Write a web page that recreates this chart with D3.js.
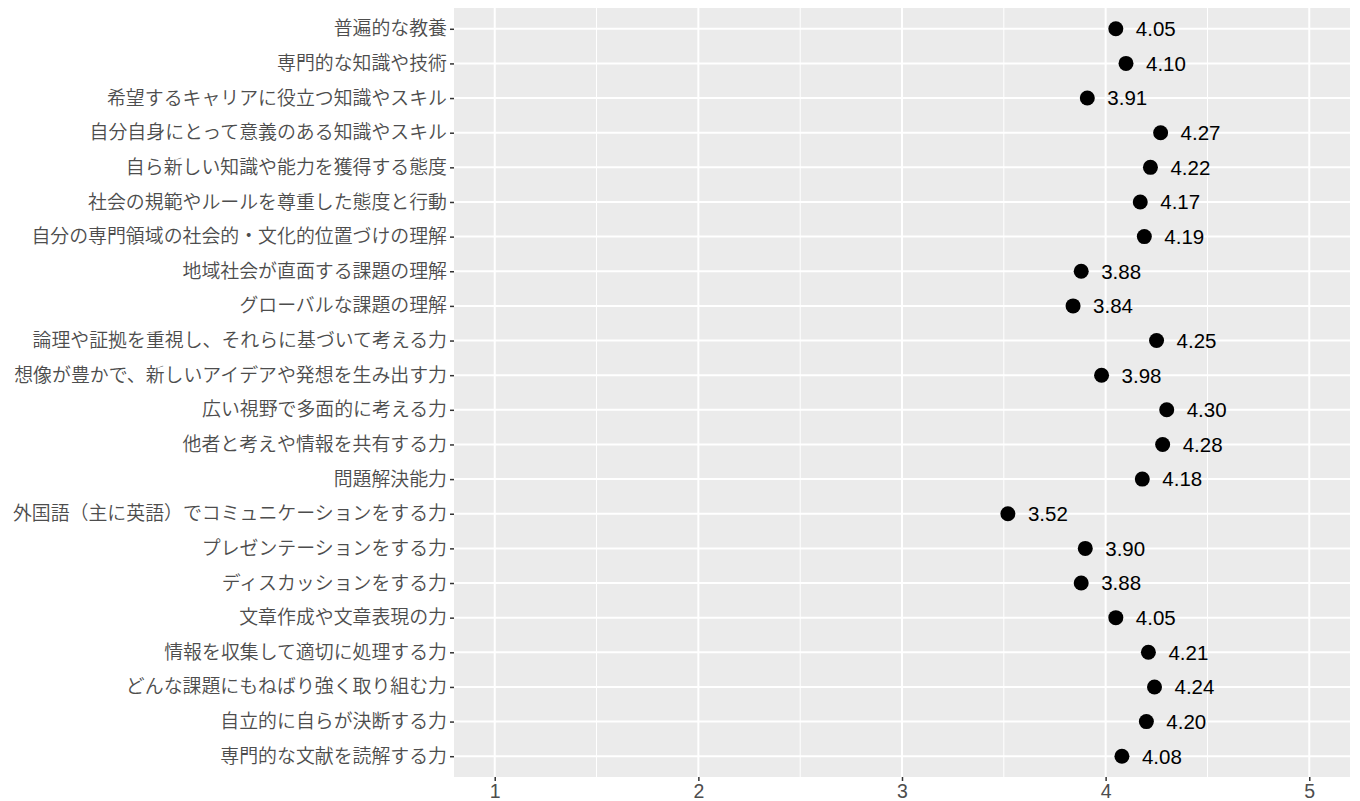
<!DOCTYPE html>
<html><head><meta charset="utf-8">
<script src="https://cdn.jsdelivr.net/npm/d3@7"></script>
<style>body{margin:0;background:#fff;}</style>
</head><body>
<svg id="chart" width="1360" height="801"></svg>
<script>
const categories = [
"普遍的な教養","専門的な知識や技術","希望するキャリアに役立つ知識やスキル","自分自身にとって意義のある知識やスキル",
"自ら新しい知識や能力を獲得する態度","社会の規範やルールを尊重した態度と行動","自分の専門領域の社会的・文化的位置づけの理解",
"地域社会が直面する課題の理解","グローバルな課題の理解","論理や証拠を重視し、それらに基づいて考える力",
"想像が豊かで、新しいアイデアや発想を生み出す力","広い視野で多面的に考える力","他者と考えや情報を共有する力",
"問題解決能力","外国語（主に英語）でコミュニケーションをする力","プレゼンテーションをする力","ディスカッションをする力",
"文章作成や文章表現の力","情報を収集して適切に処理する力","どんな課題にもねばり強く取り組む力","自立的に自らが決断する力",
"専門的な文献を読解する力"];
const values = [4.05,4.10,3.91,4.27,4.22,4.17,4.19,3.88,3.84,4.25,3.98,4.30,4.28,4.18,3.52,3.90,3.88,4.05,4.21,4.24,4.20,4.08];
const xTicks = [1,2,3,4,5];
const xMinor = [1.5,2.5,3.5,4.5];

const svg = d3.select("#chart");
const L = 454, R = 1350, T = 8, B = 777;
const x = d3.scaleLinear().domain([0.8,5.2]).range([L,R]);
const n = categories.length;
const step = (B - T) / (n - 1 + 1.2);
const y = d3.scalePoint().domain(categories).range([T + 0.6*step, B - 0.6*step]);

svg.append("rect").attr("x",L).attr("y",T).attr("width",R-L).attr("height",B-T).attr("fill","#EBEBEB");
svg.selectAll(".minor").data(xMinor).enter().append("line")
  .attr("x1",d=>x(d)).attr("x2",d=>x(d)).attr("y1",T).attr("y2",B)
  .attr("stroke","#fff").attr("stroke-width",1);
svg.selectAll(".majx").data(xTicks).enter().append("line")
  .attr("x1",d=>x(d)).attr("x2",d=>x(d)).attr("y1",T).attr("y2",B)
  .attr("stroke","#fff").attr("stroke-width",2);
svg.selectAll(".majy").data(categories).enter().append("line")
  .attr("x1",L).attr("x2",R).attr("y1",d=>y(d)).attr("y2",d=>y(d))
  .attr("stroke","#fff").attr("stroke-width",2);

const fontCJK = "'Noto Sans CJK JP', 'Noto Sans', sans-serif";
// y axis
const yAxis = svg.append("g").attr("transform",`translate(${L},0)`)
  .call(d3.axisLeft(y).tickSize(4).tickPadding(3));
yAxis.attr("font-size",19).attr("font-family",fontCJK);
yAxis.select(".domain").remove();
yAxis.selectAll(".tick line").attr("stroke","#333").attr("stroke-width",1.5);
yAxis.selectAll(".tick text").attr("fill","#4D4D4D").style("font-family",fontCJK).style("font-size","18.9px").style("font-weight","350");
// x axis
const xAxis = svg.append("g").attr("transform",`translate(0,${B})`)
  .call(d3.axisBottom(x).tickValues(xTicks).tickFormat(d3.format("d")).tickSize(4).tickPadding(3));
xAxis.attr("font-size",19.5).attr("font-family","'Liberation Sans', Arial, sans-serif");
xAxis.select(".domain").remove();
xAxis.selectAll(".tick line").attr("stroke","#333").attr("stroke-width",1.5);
xAxis.selectAll(".tick text").attr("fill","#4D4D4D").style("font-family","'Liberation Sans', Arial, sans-serif").style("font-size","19.5px");

const data = categories.map((c,i)=>({c, v: values[i]}));
svg.selectAll(".pt").data(data).enter().append("circle")
  .attr("cx",d=>x(d.v)).attr("cy",d=>y(d.c)).attr("r",7.5).attr("fill","#000");
svg.selectAll(".lbl").data(data).enter().append("text")
  .attr("x",d=>x(d.v)+20).attr("y",d=>y(d.c)).attr("dy","0.36em")
  .style("font-family","'Liberation Sans', Arial, sans-serif").style("font-size","20.5px").attr("fill","#000")
  .text(d=>d.v.toFixed(2));
</script>
</body></html>
